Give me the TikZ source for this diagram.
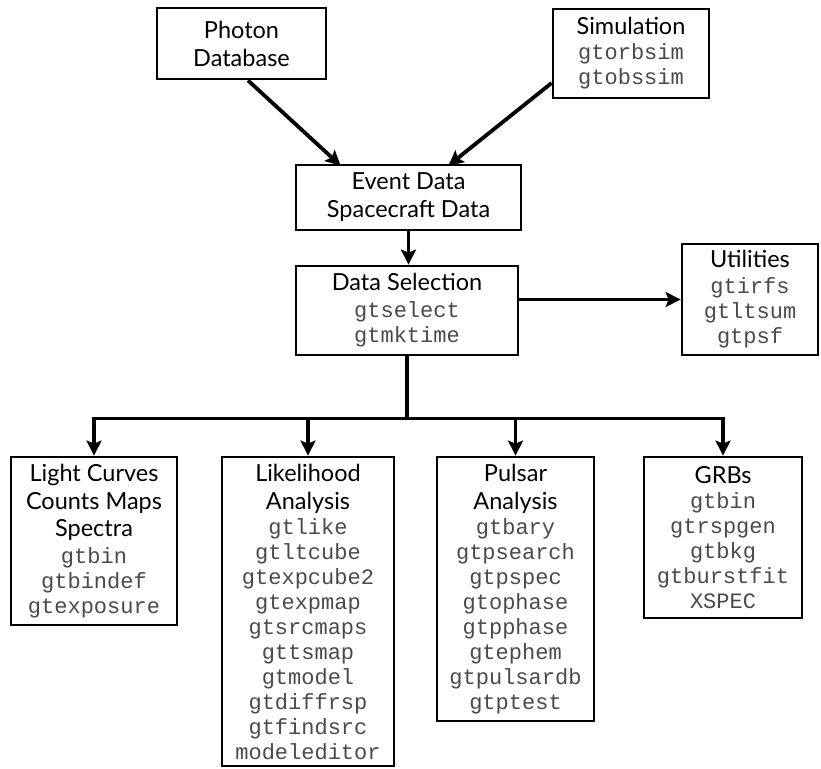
\documentclass[tikz,border=0pt]{standalone}
\usepackage{fontspec}
\setmainfont{Lato}
\newfontfamily\codefont{Liberation Mono}
\usetikzlibrary{arrows.meta,calc}
\definecolor{codegray}{HTML}{4A4A4A}
\newcommand\cd[1]{{\codefont\fontsize{22}{25}\selectfont\color{codegray}#1}}
\begin{document}
\begin{tikzpicture}[x=1pt,y=-1pt,
  box/.style={draw=black, line width=2.8pt, inner sep=0pt, align=center,
    font=\fontsize{23.5}{25}\selectfont},
  arr/.style={line width=3.8pt, -{Stealth[length=15pt,width=15pt,inset=3pt]}},
  ln/.style={line width=3.8pt}]
\useasboundingbox (0,0) rectangle (821,768);
\node[box, minimum width=169pt, minimum height=71pt] (photon) at (241.5,43.5) {Photon\\[3pt]Database};
\node[box, minimum width=156pt, minimum height=89pt] (sim) at (631,53.5) {Simulation\\\cd{gtorbsim}\\\cd{gtobssim}};
\node[box, minimum width=225pt, minimum height=65pt] (event) at (408.5,197.5) {Event Data\\[3pt]Spacecraft Data};
\node[box, minimum width=222pt, minimum height=89pt] (sel) at (407,310.5) {Data Selection\\[2pt]\cd{gtselect}\\\cd{gtmktime}};
\node[box, minimum width=136pt, minimum height=111pt] (util) at (750,299.5) {Utilities\\[1pt]\cd{gtirfs}\\\cd{gtltsum}\\\cd{gtpsf}};
\node[box, minimum width=166pt, minimum height=168pt] (lc) at (94,541) {Light Curves\\[3pt]Counts Maps\\[2pt]Spectra\\[2pt]\cd{gtbin}\\\cd{gtbindef}\\\cd{gtexposure}};
\node[box, minimum width=172pt, minimum height=309pt] (like) at (308,611.5) {Likelihood\\[3pt]Analysis\\\cd{gtlike}\\\cd{gtltcube}\\\cd{gtexpcube2}\\\cd{gtexpmap}\\\cd{gtsrcmaps}\\\cd{gttsmap}\\\cd{gtmodel}\\\cd{gtdiffrsp}\\\cd{gtfindsrc}\\\cd{modeleditor}};
\node[box, minimum width=157pt, minimum height=264pt] (pulsar) at (515.5,589) {Pulsar\\[3pt]Analysis\\\cd{gtbary}\\\cd{gtpsearch}\\\cd{gtpspec}\\\cd{gtophase}\\\cd{gtpphase}\\\cd{gtephem}\\\cd{gtpulsardb}\\\cd{gtptest}};
\node[box, minimum width=158pt, minimum height=161pt] (grb) at (723,537.5) {GRBs\\\cd{gtbin}\\\cd{gtrspgen}\\\cd{gtbkg}\\\cd{gtburstfit}\\\cd{XSPEC}};
\draw[arr] ([xshift=6.5pt]photon.south) -- ([xshift=46pt,yshift=-2pt]event.north west);
\draw[arr] ([yshift=-29.5pt]sim.west) -- ([xshift=-74pt,yshift=-2pt]event.north east);
\draw[arr] (event.south) -- (event.south |- sel.north);
\draw[arr] (util.west -| sel.east) -- (util.west);
\coordinate (bus) at ($(sel.south)+(0,62)$);
\draw[ln] (sel.south) -- (bus);
\draw[ln, line cap=rect] (lc.north |- bus) -- (grb.north |- bus);
\draw[arr] (lc.north |- bus) -- (lc.north);
\draw[arr] (like.north |- bus) -- (like.north);
\draw[arr] (pulsar.north |- bus) -- (pulsar.north);
\draw[arr] (grb.north |- bus) -- (grb.north);
\end{tikzpicture}
\end{document}
